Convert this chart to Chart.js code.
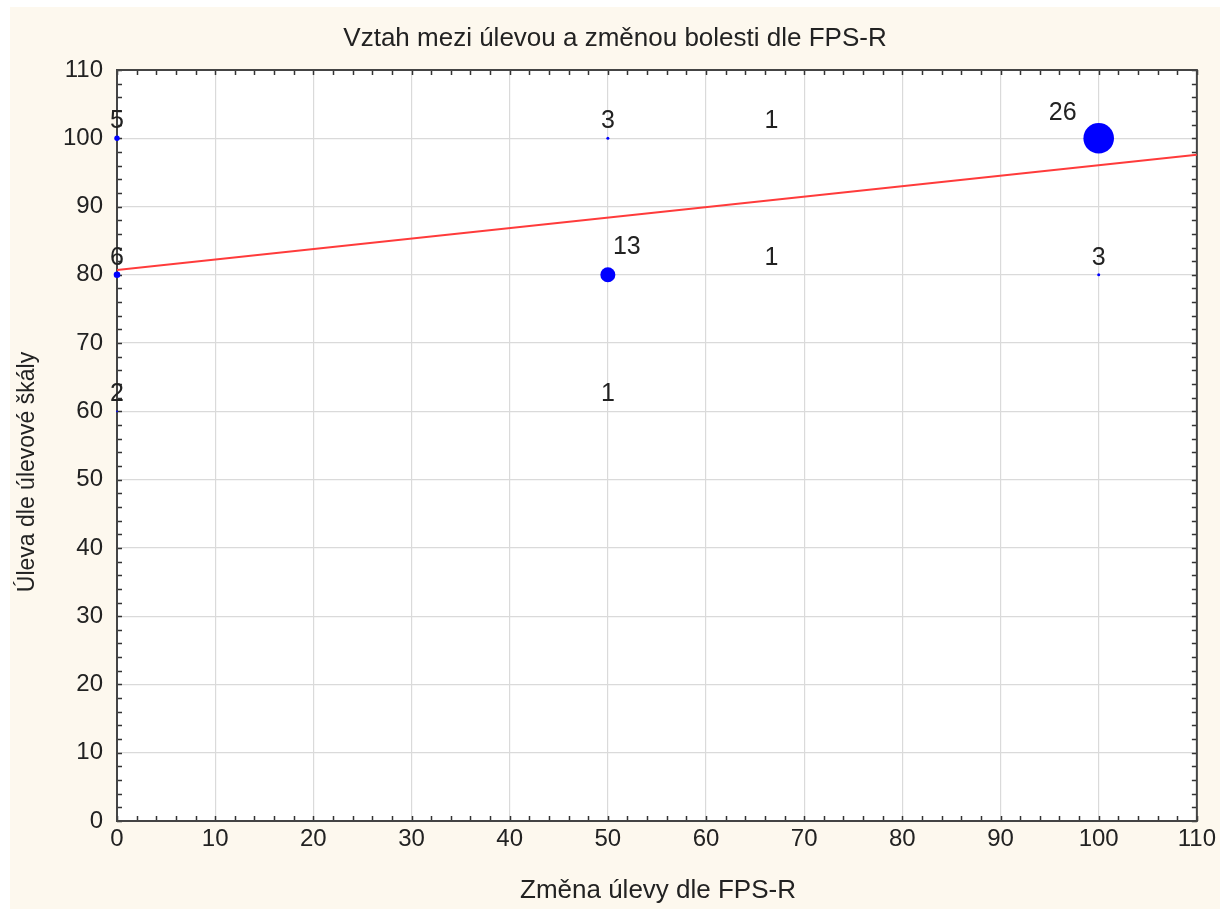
<!DOCTYPE html>
<html>
<head>
<meta charset="utf-8">
<script src="https://cdn.jsdelivr.net/npm/chart.js@4/dist/chart.umd.min.js"></script>
<style>
  body { margin: 0; background: #fff; }
  #wrap { position: absolute; left: 10px; top: 7px; width: 1210px; height: 902px; background: #fdf8ee; }
</style>
</head>
<body>
<div id="wrap"><canvas id="bubbleChart" width="1210" height="902"></canvas></div>
<script>

// zmena ulevy (x), uleva (y), pocet pacientu v bode
var zmenaUlevy = [0, 0, 0, 50, 50, 50, 66.67, 66.67, 100, 100];
var ulevaSkala = [100, 80, 60, 100, 80, 60, 100, 80, 100, 80];
var pocty = [5, 6, 2, 3, 13, 1, 1, 1, 26, 3];

// regresni primka
var primkaX = [0, 110];
var primkaY = [80.7, 97.6];

var osaTicks = [0, 10, 20, 30, 40, 50, 60, 70, 80, 90, 100, 110];

var nadpis = "Vztah mezi úlevou a změnou bolesti dle FPS-R";
var popisX = "Změna úlevy dle FPS-R";
var popisY = "Úleva dle úlevové škály";

var fontName = "'Liberation Sans', Arial, sans-serif";

// velikost bodu podle poctu, jeden pacient = bez znacky
function polomer(n) {
	return n > 1 ? 0.6 * n - 0.3 : 0;
}

var bodyData = [];
for (var i = 0; i < zmenaUlevy.length; i++) {
	bodyData[i] = {x: zmenaUlevy[i], y: ulevaSkala[i]};
}
var primkaData = [];
for (var j = 0; j < primkaX.length; j++) {
	primkaData[j] = {x: primkaX[j], y: primkaY[j]};
}

// bile pozadi grafu, ramecek, ticky dovnitr, texty a popisky poctu
var kresleni = {
	id: 'kresleni',
	beforeDraw: function(chart) {
		var c = chart.ctx, a = chart.chartArea;
		c.save();
		c.fillStyle = '#ffffff';
		c.fillRect(a.left, a.top, a.right - a.left, a.bottom - a.top);
		c.restore();
	},
	beforeDatasetsDraw: function(chart) {
		var c = chart.ctx;
		var a = chart.chartArea;
		var sx = chart.scales.x, sy = chart.scales.y;
		c.save();
		c.strokeStyle = '#333';
		c.lineWidth = 1.5;
		c.beginPath();
		for (var v = 0; v <= 110; v += 2) {
			var px = Math.round(sx.getPixelForValue(v)) + 0.5;
			c.moveTo(px, a.bottom); c.lineTo(px, a.bottom - 5);
			c.moveTo(px, a.top); c.lineTo(px, a.top + 5);
			var py = Math.round(sy.getPixelForValue(v)) + 0.5;
			c.moveTo(a.left, py); c.lineTo(a.left + 5, py);
			c.moveTo(a.right, py); c.lineTo(a.right - 5, py);
		}
		c.stroke();
		c.strokeStyle = '#444';
		c.lineWidth = 2;
		c.strokeRect(a.left, a.top, a.right - a.left, a.bottom - a.top);
		c.restore();
	},
	afterDraw: function(chart) {
		var c = chart.ctx;
		var sx = chart.scales.x, sy = chart.scales.y;
		c.save();
		c.fillStyle = '#222';
		c.font = '25px ' + fontName;
		c.textAlign = 'center';
		c.textBaseline = 'middle';
		for (var k = 0; k < pocty.length; k++) {
			var bx = sx.getPixelForValue(zmenaUlevy[k]);
			var by = sy.getPixelForValue(ulevaSkala[k]);
			var r = polomer(pocty[k]);
			var dx = 0, dy = -17;
			if (r > 10) { dx = -36; dy = -25; }
			else if (r > 5) { dx = 19; dy = -28; }
			c.fillText(String(pocty[k]), bx + dx, by + dy);
		}

		c.font = '26px ' + fontName;
		c.fillText(nadpis, 605, 32);
		c.fillText(popisX, 648, 884);
		c.font = '23px ' + fontName;
		c.translate(18, 465);
		c.rotate(-Math.PI / 2);
		c.fillText(popisY, 0, 0);
		c.restore();
	}
};

var config = {
	type: 'scatter',
	data: {
		datasets: [{
			label: 'body',
			data: bodyData,
			backgroundColor: '#0000ff',
			borderColor: '#0000ff',
			borderWidth: 0,
			pointRadius: function(ctx) { return polomer(pocty[ctx.dataIndex]); },
			pointHoverRadius: function(ctx) { return polomer(pocty[ctx.dataIndex]); },
			clip: false
		}, {
			label: 'regrese',
			data: primkaData,
			showLine: true,
			borderColor: '#ff3b3b',
			borderWidth: 2,
			pointRadius: 0,
			fill: false
		}]
	},
	options: {
		responsive: false,
		animation: false,
		layout: {padding: {top: 63, right: 21, left: 0, bottom: 0}},
		plugins: {legend: {display: false}, title: {display: false}, tooltip: {enabled: false}},
		scales: {
			x: {
				type: 'linear', min: 0, max: 110,
				afterFit: function(s) { s.height = 88; },
				afterBuildTicks: function(s) { s.ticks = osaTicks.map(function(v) { return {value: v}; }); },
				grid: {color: '#dadada', lineWidth: 1.2, drawTicks: false},
				border: {display: false},
				ticks: {color: '#222', padding: 4, font: {family: fontName, size: 24}}
			},
			y: {
				type: 'linear', min: 0, max: 110,
				afterFit: function(s) { s.width = 107; },
				afterBuildTicks: function(s) { s.ticks = osaTicks.map(function(v) { return {value: v}; }); },
				grid: {color: '#dadada', lineWidth: 1.2, drawTicks: false},
				border: {display: false},
				ticks: {color: '#222', padding: 14, font: {family: fontName, size: 24}}
			}
		}
	},
	plugins: [kresleni]
};

var ctx = document.getElementById('bubbleChart').getContext('2d');
window.myChart = new Chart(ctx, config);
</script>
</body>
</html>
